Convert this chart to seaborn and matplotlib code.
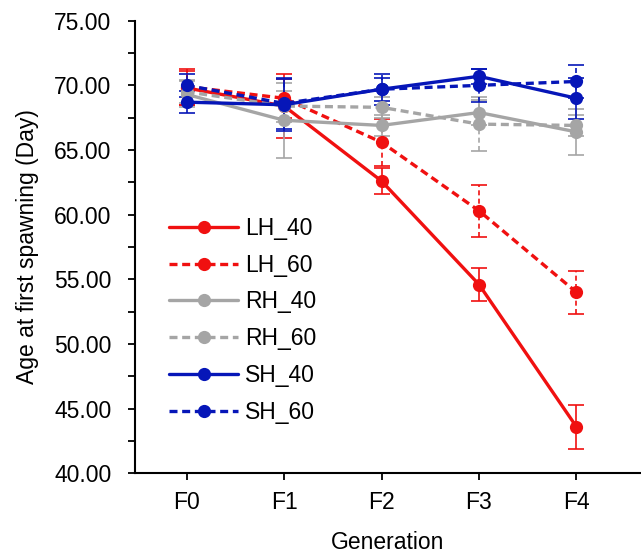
import numpy as np
import pandas as pd
import matplotlib
matplotlib.use("Agg")
import matplotlib.pyplot as plt
from matplotlib.ticker import MultipleLocator, FormatStrFormatter
import seaborn as sns

generations = ["F0", "F1", "F2", "F3", "F4"]

LH_40 = [69.8, 68.4, 62.6, 54.6, 43.6]
LH_40_err = [1.3, 2.5, 1.0, 1.3, 1.7]
LH_60 = [69.9, 69.0, 65.6, 60.3, 54.0]
LH_60_err = [1.4, 1.5, 1.8, 2.0, 1.65]
RH_40 = [69.3, 67.3, 66.9, 67.9, 66.4]
RH_40_err = [1.0, 2.9, 0.8, 1.0, 1.75]
RH_60 = [69.5, 68.4, 68.3, 67.0, 66.9]
RH_60_err = [0.9, 1.2, 0.8, 2.1, 0.8]
SH_40 = [68.7, 68.5, 69.7, 70.7, 69.0]
SH_40_err = [0.85, 2.0, 0.9, 0.6, 1.6]
SH_60 = [70.0, 68.6, 69.7, 70.0, 70.3]
SH_60_err = [0.9, 2.0, 1.2, 1.3, 1.3]

series_names = ["LH_40", "LH_60", "RH_40", "RH_60", "SH_40", "SH_60"]
series_vals = [LH_40, LH_60, RH_40, RH_60, SH_40, SH_60]
series_errs = [LH_40_err, LH_60_err, RH_40_err, RH_60_err, SH_40_err, SH_60_err]

red = "#F01010"
gray = "#A5A5A5"
blue = "#0616B8"
palette = {"LH_40": red, "LH_60": red, "RH_40": gray, "RH_60": gray,
           "SH_40": blue, "SH_60": blue}
dash_d = (2.4, 1.4)
dashes = {n: ("" if n.endswith("40") else dash_d) for n in series_names}

rows = []
for name, vals in zip(series_names, series_vals):
    for i, v in enumerate(vals):
        rows.append({"gen": i, "value": v, "series": name})
df = pd.DataFrame(rows)

sns.set_style("ticks")
plt.rcParams["font.family"] = ["Liberation Sans", "DejaVu Sans"]
plt.rcParams["text.color"] = "black"
plt.rcParams["axes.labelcolor"] = "black"

fig = plt.figure(figsize=(6.41, 5.53), dpi=100)
ax = fig.add_axes([0.2106, 0.1441, 0.789, 0.8185])

# error bars
for name, vals, errs in zip(series_names, series_vals, series_errs):
    eb = ax.errorbar(range(len(generations)), vals, yerr=errs, fmt="none",
                     ecolor=palette[name], elinewidth=1.2, capsize=5.5,
                     capthick=1.2, zorder=2)
    if name.endswith("60"):
        for lc in eb[2]:
            lc.set_linestyle((0, (3, 2)))

sns.lineplot(data=df, x="gen", y="value", hue="series", style="series",
             hue_order=series_names, style_order=series_names,
             palette=palette, dashes=dashes, markers={n: "o" for n in series_names},
             markersize=9.5, markeredgewidth=0, linewidth=2.4, ax=ax, zorder=3)

ax.set_xlim(-0.53, 4.66)
ax.set_ylim(40, 75)
ax.set_xticks(range(len(generations)))
ax.set_xticklabels(generations)
ax.yaxis.set_major_locator(MultipleLocator(5))
ax.yaxis.set_minor_locator(MultipleLocator(2.5))
ax.yaxis.set_major_formatter(FormatStrFormatter("%.2f"))
ax.tick_params(axis="both", which="major", labelsize=16.5, length=5, width=1.3,
               direction="out", colors="black")
ax.tick_params(axis="y", which="major", pad=12)
ax.tick_params(axis="x", which="major", pad=8)
ax.tick_params(axis="y", which="minor", length=5, width=1.3, direction="out",
               colors="black")
ax.set_xlabel("Generation", fontsize=16.5, labelpad=12)
ax.set_ylabel("Age at first spawning (Day)", fontsize=16.5, labelpad=11)
for s in ["top", "right"]:
    ax.spines[s].set_visible(False)
for s in ["left", "bottom"]:
    ax.spines[s].set_linewidth(1.5)
    ax.spines[s].set_color("black")

leg = ax.legend(loc="upper left", bbox_to_anchor=(0.05, 0.587), frameon=False,
                fontsize=16.5, handlelength=3.0, handletextpad=0.3,
                labelspacing=0.6, borderaxespad=0)
for h in leg.legend_handles:
    h.set_markersize(9.5)
    h.set_linewidth(2.4)

fig.savefig("out.png", dpi=100)
